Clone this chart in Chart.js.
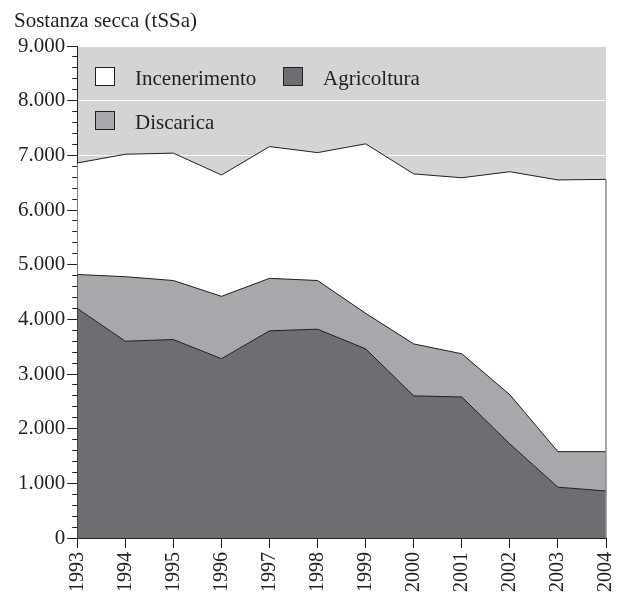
<!DOCTYPE html>
<html>
<head>
<meta charset="utf-8">
<script src="https://cdn.jsdelivr.net/npm/chart.js@4.4.0/dist/chart.umd.js"></script>
<style>
    body { margin: 0; background: #fff; }
    #wrap { width: 630px; height: 596px; position: relative; }
</style>
</head>
<body>
<div id="wrap"><canvas id="chart"></canvas></div>
<script>
// dati (tSSa)
const years = ['1993', '1994', '1995', '1996', '1997', '1998', '1999', '2000', '2001', '2002', '2003', '2004'];
const agricoltura = [4200, 3600, 3630, 3280, 3790, 3820, 3460, 2600, 2580, 1720, 930, 860];
const discarica = [620, 1180, 1080, 1140, 960, 890, 650, 950, 790, 900, 650, 720];
const incenerimento = [2040, 2240, 2330, 2220, 2410, 2340, 3100, 3110, 3220, 4080, 4970, 4980];

const FONT = "'Liberation Serif', 'DejaVu Serif', serif";
const INK = '#231f20';

// etichette asse y con punto delle migliaia
const fmt = v => String(v).replace(/\B(?=(\d{3})+(?!\d))/g, '.');

// sfondo grigio dell'area del grafico
const bgPlugin = {
    id: 'bg',
    beforeDraw(chart) {
        const { ctx, chartArea: a } = chart;
        ctx.save();
        ctx.fillStyle = '#d3d4d6';
        ctx.fillRect(a.left, a.top, a.right - a.left, a.bottom - a.top);
        ctx.restore();
    }
};

// bordo destro grigio sotto l'ultima serie
const edgePlugin = {
    id: 'edge',
    afterDatasetsDraw(chart) {
        const meta = chart.getDatasetMeta(chart.data.datasets.length - 1);
        const last = meta.data[meta.data.length - 1];
        if (!last) return;
        const ctx = chart.ctx;
        ctx.save();
        ctx.strokeStyle = '#8a8b8d';
        ctx.lineWidth = 1.5;
        ctx.beginPath();
        ctx.moveTo(last.x, last.y);
        ctx.lineTo(last.x, chart.chartArea.bottom);
        ctx.stroke();
        ctx.restore();
    }
};

// titolo asse + legenda dentro il grafico
const textPlugin = {
    id: 'texts',
    afterDraw(chart) {
        const ctx = chart.ctx;
        ctx.save();
        ctx.font = '21px ' + FONT;
        ctx.fillStyle = INK;
        ctx.textBaseline = 'alphabetic';
        ctx.fillText('Sostanza secca (tSSa)', 14, 27);

        const items = [
            { label: 'Incenerimento', color: '#ffffff', x: 95, y: 67 },
            { label: 'Agricoltura', color: '#6d6e71', x: 283, y: 67 },
            { label: 'Discarica', color: '#a7a8ab', x: 95, y: 111 }
        ];
        items.forEach(it => {
            ctx.fillStyle = it.color;
            ctx.fillRect(it.x, it.y, 20, 19);
            ctx.strokeStyle = INK;
            ctx.lineWidth = 1;
            ctx.strokeRect(it.x + 0.5, it.y + 0.5, 19, 18);
            ctx.fillStyle = INK;
            ctx.fillText(it.label, it.x + 40, it.y + 18);
        });
        ctx.restore();
    }
};

const area = (label, data, color, fill) => ({
    label: label,
    data: data,
    backgroundColor: color,
    borderColor: INK,
    borderWidth: 1,
    pointRadius: 0,
    tension: 0,
    fill: fill
});

new Chart(document.getElementById('chart'), {
    type: 'line',
    data: {
        labels: years,
        datasets: [
            area('Agricoltura', agricoltura, '#6d6e71', 'origin'),
            area('Discarica', discarica, '#a7a8ab', '-1'),
            area('Incenerimento', incenerimento, '#ffffff', '-1')
        ]
    },
    options: {
        responsive: true,
        maintainAspectRatio: false,
        animation: false,
        layout: { padding: { top: 46, right: 23, left: 16, bottom: 0 } },
        plugins: {
            legend: { display: false },
            tooltip: { enabled: false }
        },
        scales: {
            x: {
                offset: false,
                border: { color: INK, width: 1 },
                grid: {
                    offset: false,
                    drawOnChartArea: false,
                    tickLength: 10,
                    tickColor: INK
                },
                ticks: {
                    color: INK,
                    font: { family: FONT, size: 20, lineHeight: 1.0 },
                    minRotation: 90,
                    maxRotation: 90,
                    padding: 4,
                    autoSkip: false
                }
            },
            y: {
                stacked: true,
                min: 0,
                max: 9000,
                border: { color: INK, width: 1 },
                grid: {
                    tickLength: 10,
                    color: c => c.tick && c.tick.value % 1000 === 0 ? '#ffffff' : 'rgba(0,0,0,0)',
                    tickColor: INK,
                    // tacche minori più corte
                    tickBorderDash: c => c.tick && c.tick.value % 1000 === 0 ? [] : [0, 5, 5, 100]
                },
                ticks: {
                    stepSize: 200,
                    maxTicksLimit: 100,
                    autoSkip: false,
                    color: INK,
                    padding: 2,
                    font: { family: FONT, size: 21 },
                    callback: v => v % 1000 === 0 ? fmt(v) : ''
                }
            }
        }
    },
    plugins: [bgPlugin, edgePlugin, textPlugin]
});
</script>
</body>
</html>
